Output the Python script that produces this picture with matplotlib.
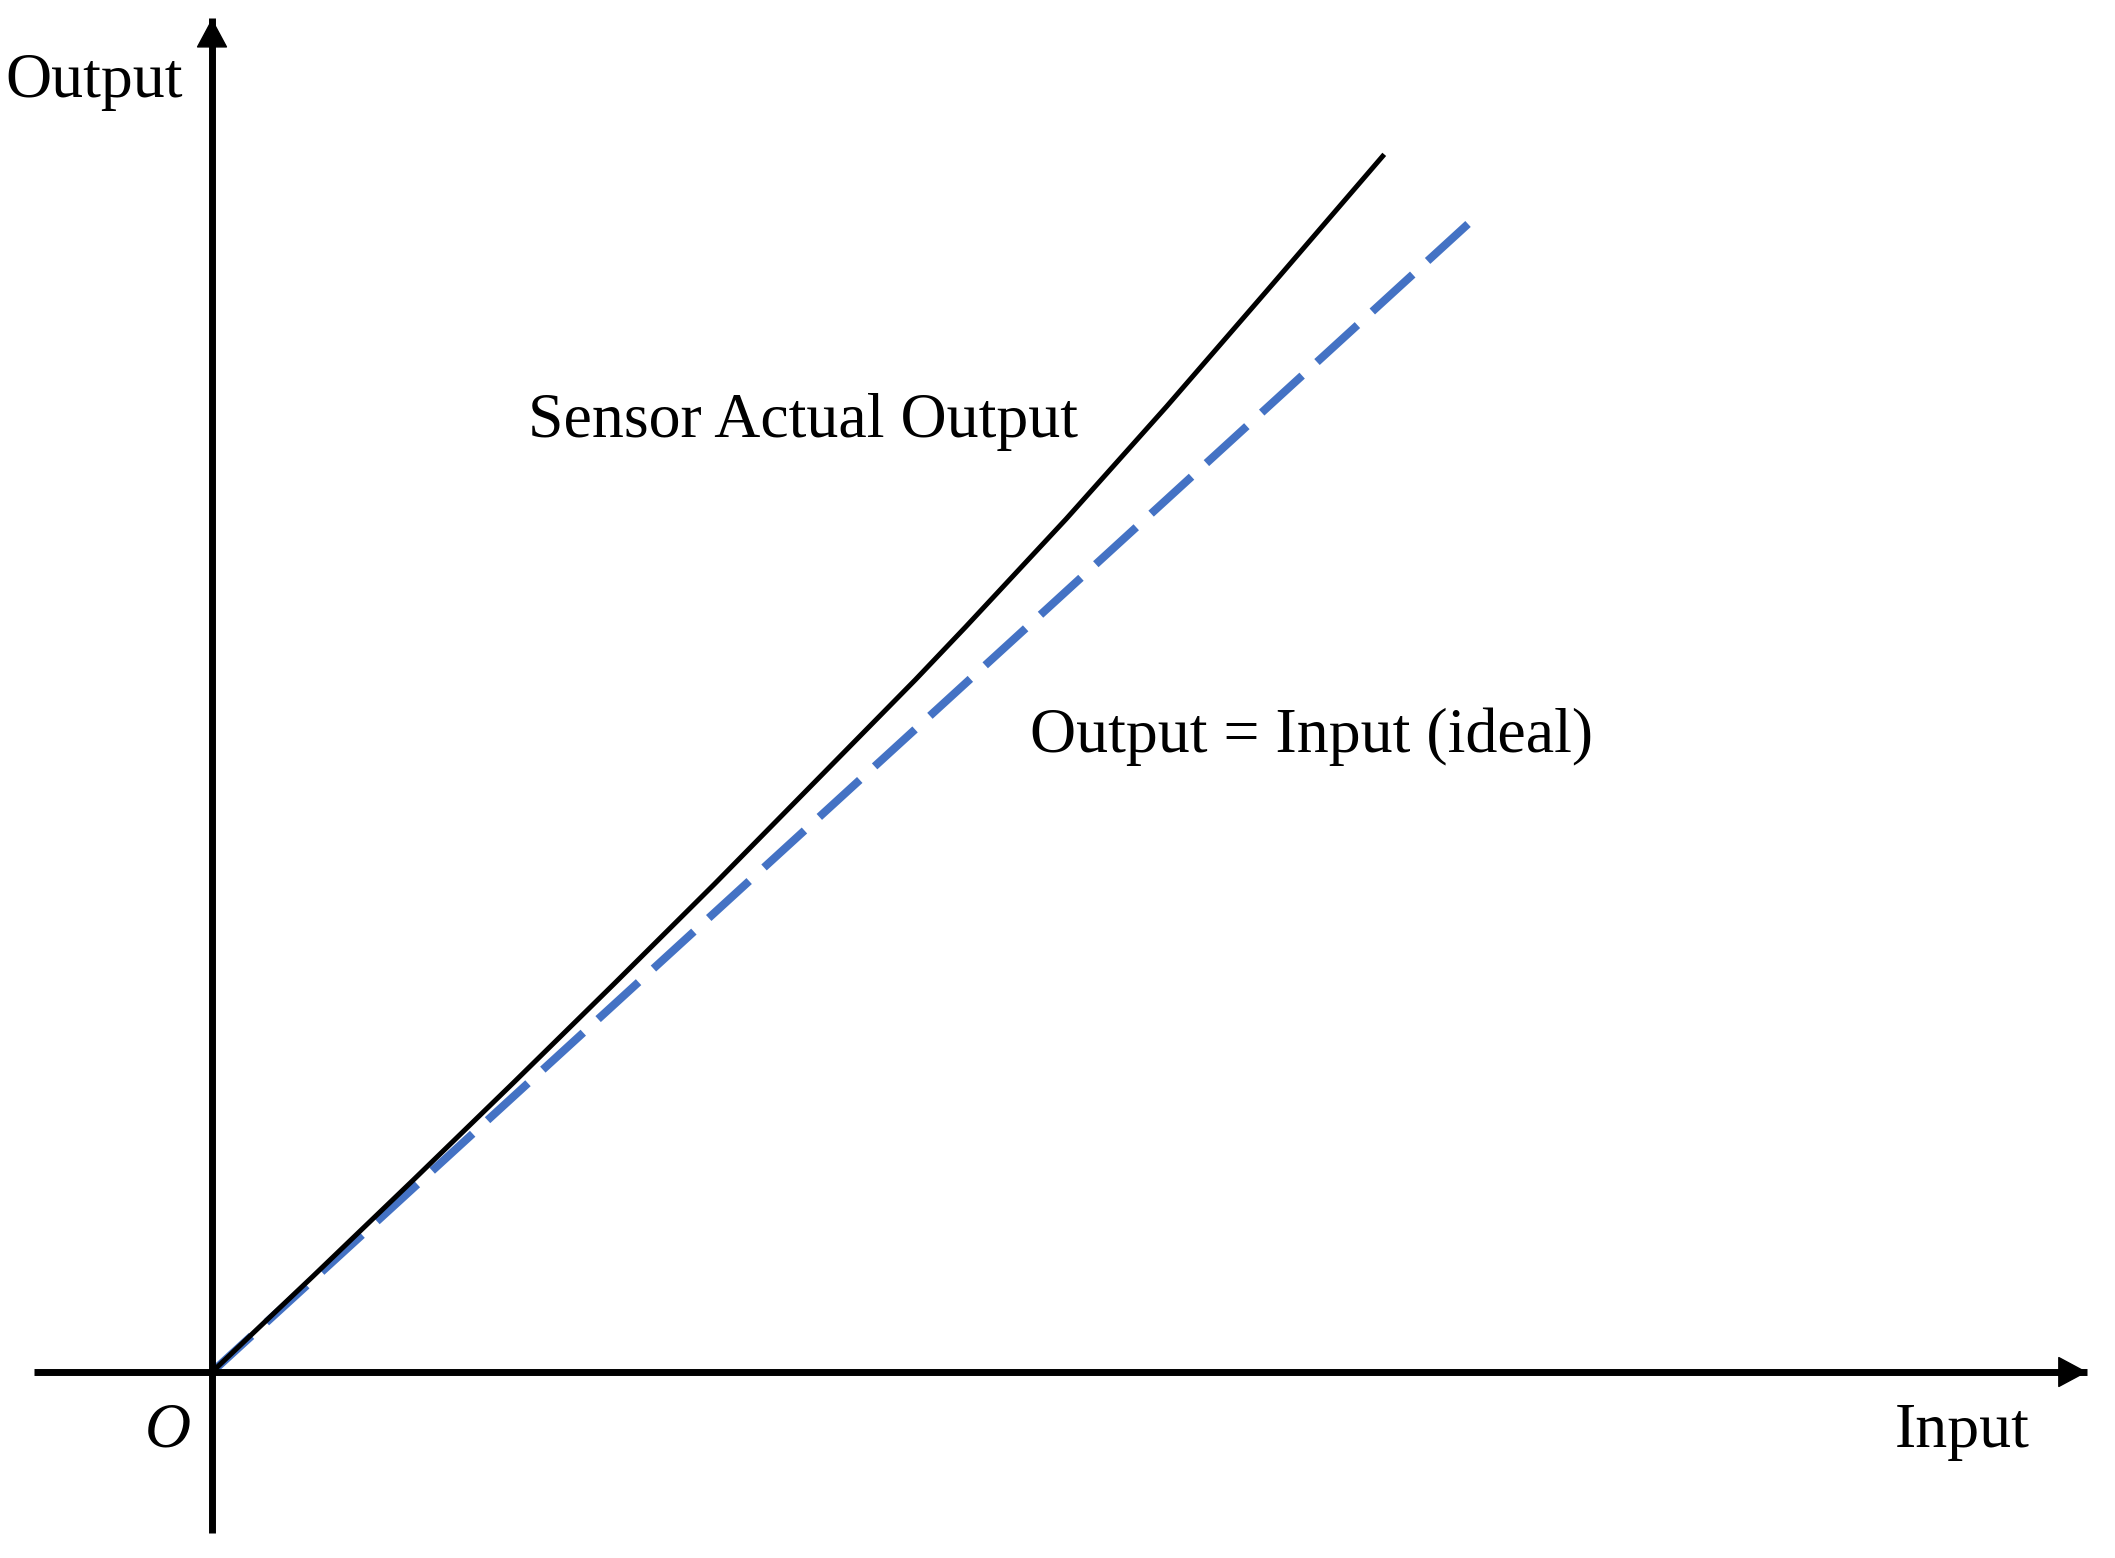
import matplotlib
matplotlib.use('Agg')
import matplotlib.pyplot as plt

# ideal response: output = input
ideal_in = [1.0, 0.0]
ideal_out = [1.0, 0.0]

# sensor actual output
actual_in = [0.0, 0.08, 0.16, 0.24, 0.32, 0.40, 0.48, 0.56, 0.60, 0.68, 0.76, 0.84, 0.932]
actual_out = [0.0, 0.083, 0.167, 0.252, 0.338, 0.425, 0.514, 0.603, 0.649, 0.743, 0.841, 0.942, 1.059]

# axis extents (data units)
x_axis = [-0.142, 1.493]
y_axis = [-0.140, 1.179]

plt.rcParams['font.family'] = ['Liberation Serif', 'DejaVu Serif']
plt.rcParams['font.size'] = 46

fig = plt.figure(figsize=(21.15, 15.58), dpi=100)
ax = fig.add_axes([0, 0, 1, 1])
ax.set_xlim(-0.1688, 1.5151)
ax.set_ylim(-0.1620, 1.1951)
ax.axis('off')

# axes with arrow heads
ax.plot(x_axis, [0, 0], color='black', lw=5, solid_capstyle='butt', zorder=3)
ax.plot([0, 0], y_axis, color='black', lw=5, solid_capstyle='butt', zorder=3)
head = dict(arrowstyle='-|>,head_length=0.97,head_width=0.52', color='black',
            lw=1, shrinkA=0, shrinkB=0, mutation_scale=20)
ax.annotate('', xy=(x_axis[1], 0), xytext=(x_axis[1] - 0.05, 0), arrowprops=head, zorder=4)
ax.annotate('', xy=(0, y_axis[1]), xytext=(0, y_axis[1] - 0.05), arrowprops=head, zorder=4)

ax.plot(ideal_in, ideal_out, color='#4472C4', lw=5.8, dashes=(6.8, 2.5),
        dash_capstyle='butt', zorder=2)
ax.plot(actual_in, actual_out, color='black', lw=3.6, zorder=5,
        solid_joinstyle='round')

ax.text(-0.1645, 1.1106, 'Output', va='baseline', ha='left')
ax.text(0.2516, 0.8145, 'Sensor Actual Output', va='baseline', ha='left')
ax.text(0.6510, 0.5401, 'Output = Input (ideal)', va='baseline', ha='left')
ax.text(-0.0533, -0.0645, 'O', va='baseline', ha='left', style='italic')
ax.text(1.340, -0.0653, 'Input', va='baseline', ha='left')

fig.savefig('out.png', dpi=100, facecolor='white')
